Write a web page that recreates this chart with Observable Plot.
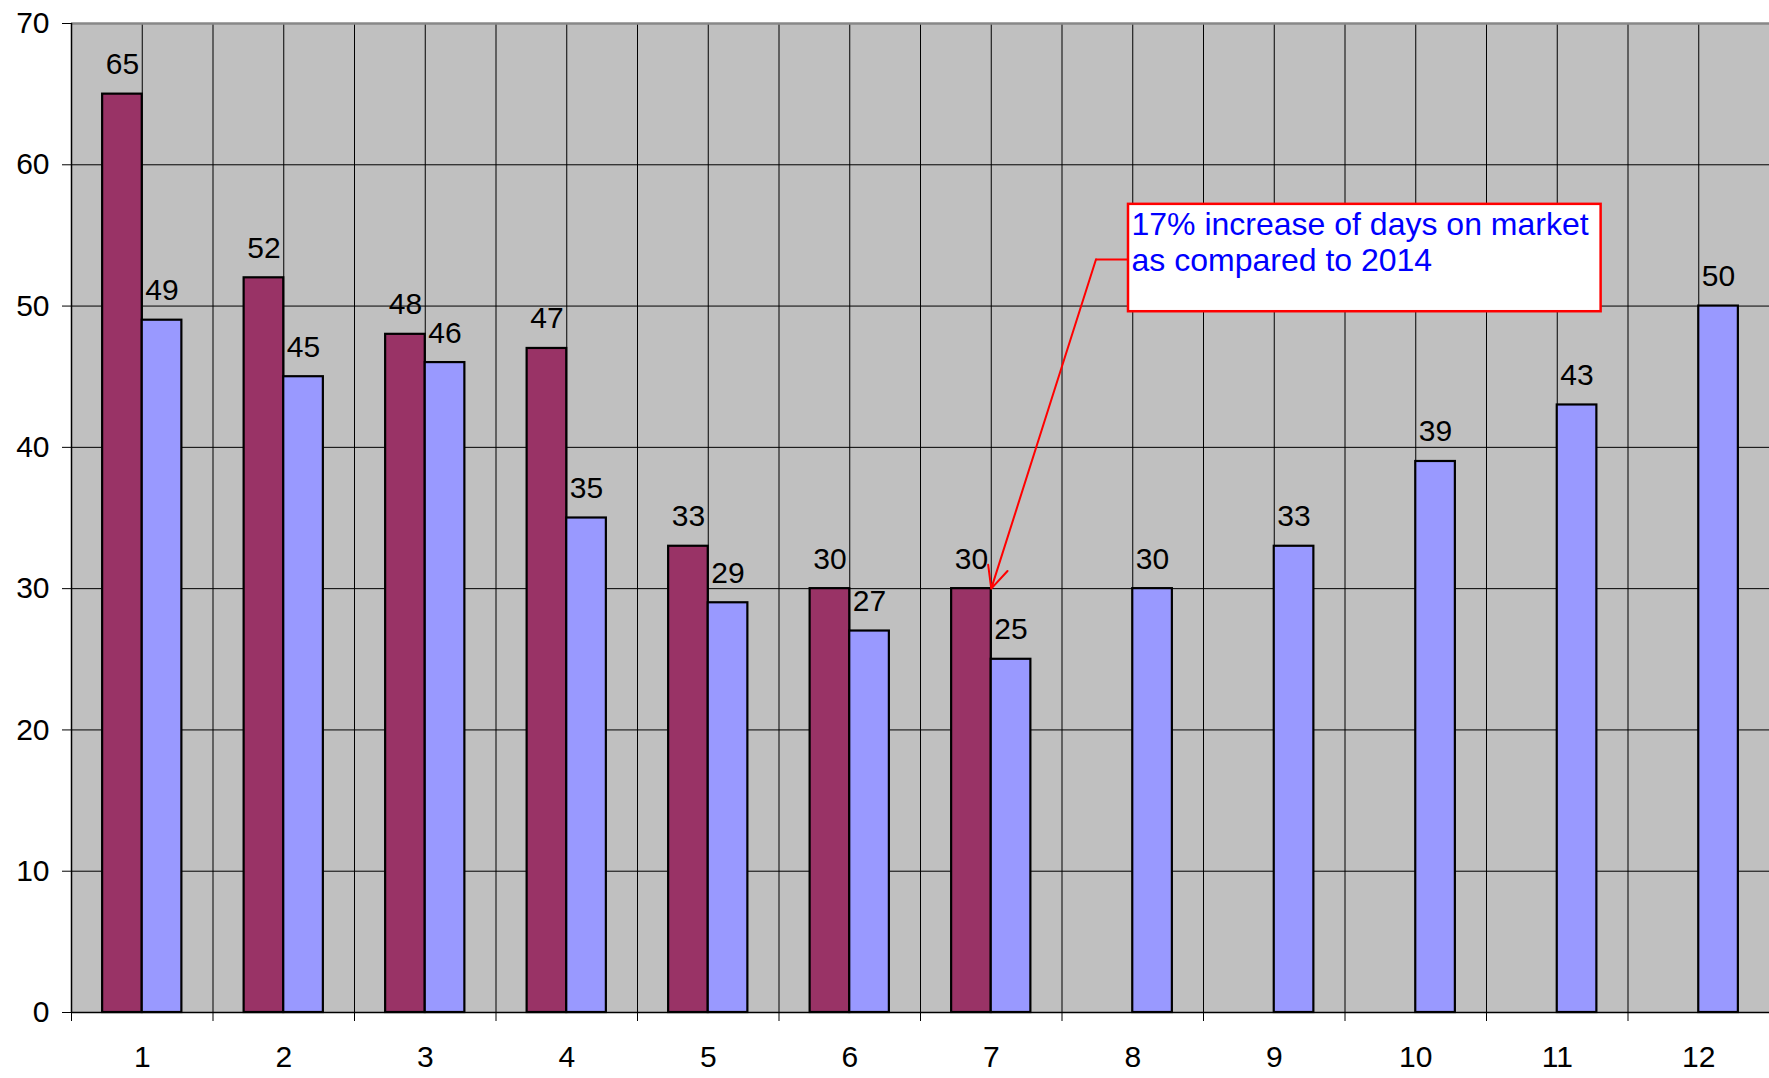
<!DOCTYPE html>
<html><head><meta charset="utf-8">
<script src="https://cdn.jsdelivr.net/npm/d3@7"></script>
<script src="https://cdn.jsdelivr.net/npm/@observablehq/plot@0.6"></script>
<style>
html,body{margin:0;padding:0;background:#fff;}
#chart{width:1769px;height:1078px;overflow:hidden;}
</style></head><body><div id="chart"></div>
<script>
// ---- data ----
const months = [1,2,3,4,5,6,7,8,9,10,11,12];
const values2015 = [65,52,48,47,33,30,30];
const values2014 = [49,45,46,35,29,27,25,30,33,39,43,50];
const yTicks = [0,10,20,30,40,50,60,70];
const seriesNames = ["2015","2014"];
const seriesColors = ["#993366","#9999FF"];
const noteText = "17% increase of days on market\nas compared to 2014";
const noteBox = {x1: 7.97, x2: 11.31, y1: 49.6, y2: 57.2};
const noteLeader = [{x: 7.97, y: 53.3}, {x: 7.74, y: 53.3}];
const noteTarget = {month: 7, value: 30};

// ---- build table ----
const BW = 0.28;
const rows = [
  ...values2015.map((v, i) => ({series: seriesNames[0], month: months[i], value: v, x1: months[i] - BW, x2: months[i]})),
  ...values2014.map((v, i) => ({series: seriesNames[1], month: months[i], value: v, x1: months[i], x2: months[i] + BW}))
];
const gridXs = months.flatMap(m => [m, m + 0.5]);
const boundaries = [months[0] - 0.5, ...months.map(m => m + 0.5)];

const chart = Plot.plot({
  width: 1769,
  height: 1078,
  marginLeft: 71,
  marginRight: 0,
  marginTop: 23,
  marginBottom: 66,
  style: {fontFamily: "'Liberation Sans', Arial, sans-serif", fontSize: "30px", color: "#000", background: "#fff"},
  x: {domain: [0.5, 12.5], axis: null},
  y: {domain: [0, 70], axis: null},
  color: {domain: seriesNames, range: seriesColors},
  marks: [
    Plot.frame({fill: "#c0c0c0", stroke: null}),
    Plot.gridY(yTicks, {stroke: "#000", strokeOpacity: 1, strokeWidth: 1}),
    Plot.gridX(gridXs, {stroke: "#000", strokeOpacity: 1, strokeWidth: 1}),
    Plot.ruleY([70], {stroke: "#888", strokeWidth: 2.5}),
    Plot.rectY(rows, {x1: "x1", x2: "x2", y1: 0, y2: "value", fill: "series", stroke: "#000", strokeWidth: 2.2}),
    Plot.text(rows, {x: d => (d.x1 + d.x2) / 2, y: "value", text: d => String(d.value), dy: -20, lineAnchor: "bottom", fontSize: 30, fill: "#000"}),
    Plot.ruleX([0.5], {stroke: "#000", strokeWidth: 1.5}),
    Plot.ruleY([0], {stroke: "#000", strokeWidth: 1.5}),
    Plot.axisY(yTicks, {tickSize: 9, tickPadding: 13, fontSize: 30, stroke: "#000", fill: "#000", label: null, tickFormat: d => String(d)}),
    Plot.axisX(months, {tickSize: 0, tickPadding: 33, fontSize: 30, fill: "#000", label: null, tickFormat: d => String(d)}),
    Plot.axisX(boundaries, {tickSize: 9, tickFormat: () => "", stroke: "#000", label: null}),
    Plot.line(noteLeader, {x: "x", y: "y", stroke: "#ff0000", strokeWidth: 2}),
    Plot.arrow([noteTarget], {x1: noteLeader[1].x, y1: noteLeader[1].y, x2: "month", y2: "value", stroke: "#ff0000", strokeWidth: 2, headLength: 18, headAngle: 50}),
    Plot.rect([noteBox], {x1: "x1", x2: "x2", y1: "y1", y2: "y2", fill: "#fff", stroke: "#ff0000", strokeWidth: 2.5}),
    Plot.text([noteText], {x: noteBox.x1, y: noteBox.y2, text: d => d, textAnchor: "start", lineAnchor: "top", dx: 3, dy: 5, fontSize: 32, lineHeight: 1.13, fill: "#0000ff"})
  ]
});
document.getElementById("chart").appendChild(chart);
</script>
</body></html>
